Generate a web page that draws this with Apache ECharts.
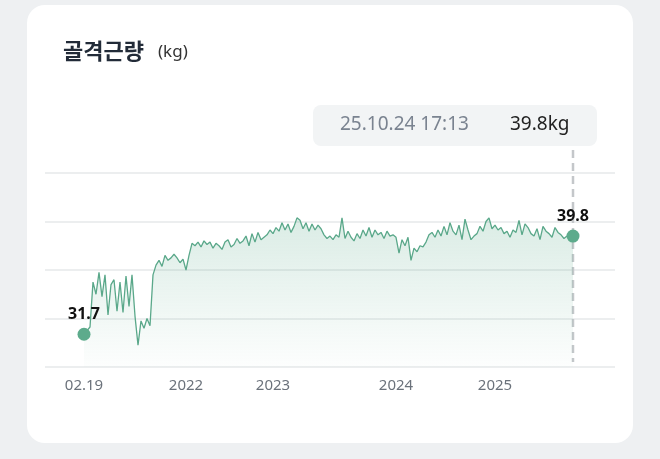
<!DOCTYPE html><html><head><meta charset="utf-8">
<script src="https://cdn.jsdelivr.net/npm/echarts@6/dist/echarts.min.js"></script>
<style>html,body{margin:0;padding:0;background:#eef0f2;width:660px;height:459px;overflow:hidden;font-family:"Noto Sans CJK KR","Noto Sans",sans-serif}
#card{position:absolute;left:27px;top:5px;width:606px;height:438px;background:#fff;border-radius:18px}
#chart{position:absolute;left:0;top:0;width:660px;height:459px}</style></head><body>
<div id="card"></div><div id="chart"></div>
<script>
const values = [31.7,32.0,32.3,
36.0,35.0,36.8,34.8,36.6,33.3,35.8,36.2,33.6,36.0,33.5,36.5,34.0,36.6,
33.2,30.8,32.8,32.2,33.0,32.4,
36.6,
37.4,37.8,37.3,38.2,37.8,38.0,38.3,38.0,37.6,37.9,
37.0,
38.2,39.2,39.0,39.3,38.9,39.4,39.1,39.3,38.8,39.2,39.0,38.7,39.3,39.5,38.9,39.1,39.6,39.2,39.4,39.8,39.0,40.0,39.3,40.1,39.5,39.7,39.9,40.3,
40.0,40.5,40.2,40.9,40.3,40.8,40.1,40.6,41.3,41.1,40.4,40.9,40.2,40.8,40.3,40.7,40.4,39.9,39.6,39.8,
39.5,39.9,39.7,41.3,39.6,40.2,39.7,39.4,40.0,39.6,40.3,39.8,40.5,39.7,40.3,39.9,40.1,39.6,40.2,39.8,39.9,
39.7,
38.4,39.5,39.0,39.7,37.8,38.8,38.5,39.0,38.9,39.3,
39.9,40.1,39.7,40.3,39.8,40.6,39.9,40.9,40.2,39.9,40.7,39.5,41.2,40.3,39.5,39.8,40.0,40.6,40.2,41.0,41.3,40.4,
40.7,
40.3,40.5,40.0,40.2,39.7,40.3,40.1,41.1,39.9,40.8,40.5,40.0,39.8,40.4,39.5,40.6,40.2,40.0,39.7,40.5,40.1,39.9,39.6,39.8,39.8,39.8];
const tickIndex = [0,34,63,104,137];
const tickLabels = ['02.19','2022','2023','2024','2025'];
const yTicks = [29,33,37,41,45];
const tipDate = '25.10.24 17:13', tipValue = '39.8kg';

const last = values.length-1;
const data = values.map((v,i)=>{
  if(i===0||i===last) return {value:[i,v],symbol:'circle',symbolSize:13,
    label:{show:true,position:'top',distance:5,formatter:String(v),color:'#111',fontWeight:'bold',fontSize:16,fontFamily:'Noto Sans'}};
  return {value:[i,v],symbol:'none'};
});
const chart = echarts.init(document.getElementById('chart'));
chart.setOption({
  animation:false,
  title:{text:'골격근량',left:58,top:35,textStyle:{fontSize:22,fontWeight:'bold',color:'#222b38',fontFamily:'Noto Sans CJK KR'}},
  graphic:[{type:'text',left:158,top:44,style:{text:'(kg)',fontSize:17,fill:'#333',fontFamily:'Noto Sans'}},
    {type:'rect',shape:{x:313,y:105,width:284,height:41,r:8},style:{fill:'#f2f4f5'}},
    {type:'text',x:340,y:115,style:{text:tipDate,fontSize:19,fill:'#7a8390',fontFamily:'Noto Sans'}},
    {type:'text',x:510,y:115,style:{text:tipValue,fontSize:19,fill:'#222',fontFamily:'Noto Sans'}}],
  grid:{left:45,right:45,top:173,bottom:92},
  xAxis:{type:'value',min:-13,max:177,interval:1,
    axisLine:{show:false},axisTick:{show:false},splitLine:{show:false},
    axisLabel:{color:'#6b727b',fontSize:15,margin:11,fontFamily:'Noto Sans',showMinLabel:true,showMaxLabel:true,
      formatter:v=>{const k=tickIndex.indexOf(v);return k>=0?tickLabels[k]:'';}}},
  yAxis:{type:'value',min:yTicks[0],max:yTicks[yTicks.length-1],interval:4,
    axisLabel:{show:false},axisLine:{show:false},axisTick:{show:false},
    splitLine:{lineStyle:{color:'#e6e8ea',width:1.5}}},
  series:[{type:'line',data:data,showSymbol:true,itemStyle:{color:'#5dab8c'},
    lineStyle:{color:'#5aa88a',width:1.3},
    areaStyle:{color:new echarts.graphic.LinearGradient(0,0,0,1,[{offset:0,color:'rgba(93,171,140,0.32)'},{offset:1,color:'rgba(93,171,140,0.02)'}])},z:3}]
});
const p = chart.convertToPixel({gridIndex:0},[last,yTicks[0]]);
chart.setOption({graphic:[{},{},{},{},{type:'line',z:1,shape:{x1:p[0],y1:150,x2:p[0],y2:p[1]-5},
  style:{stroke:'#c4c7ca',lineWidth:2.5,lineDash:[8,5]}}]});
</script></body></html>
